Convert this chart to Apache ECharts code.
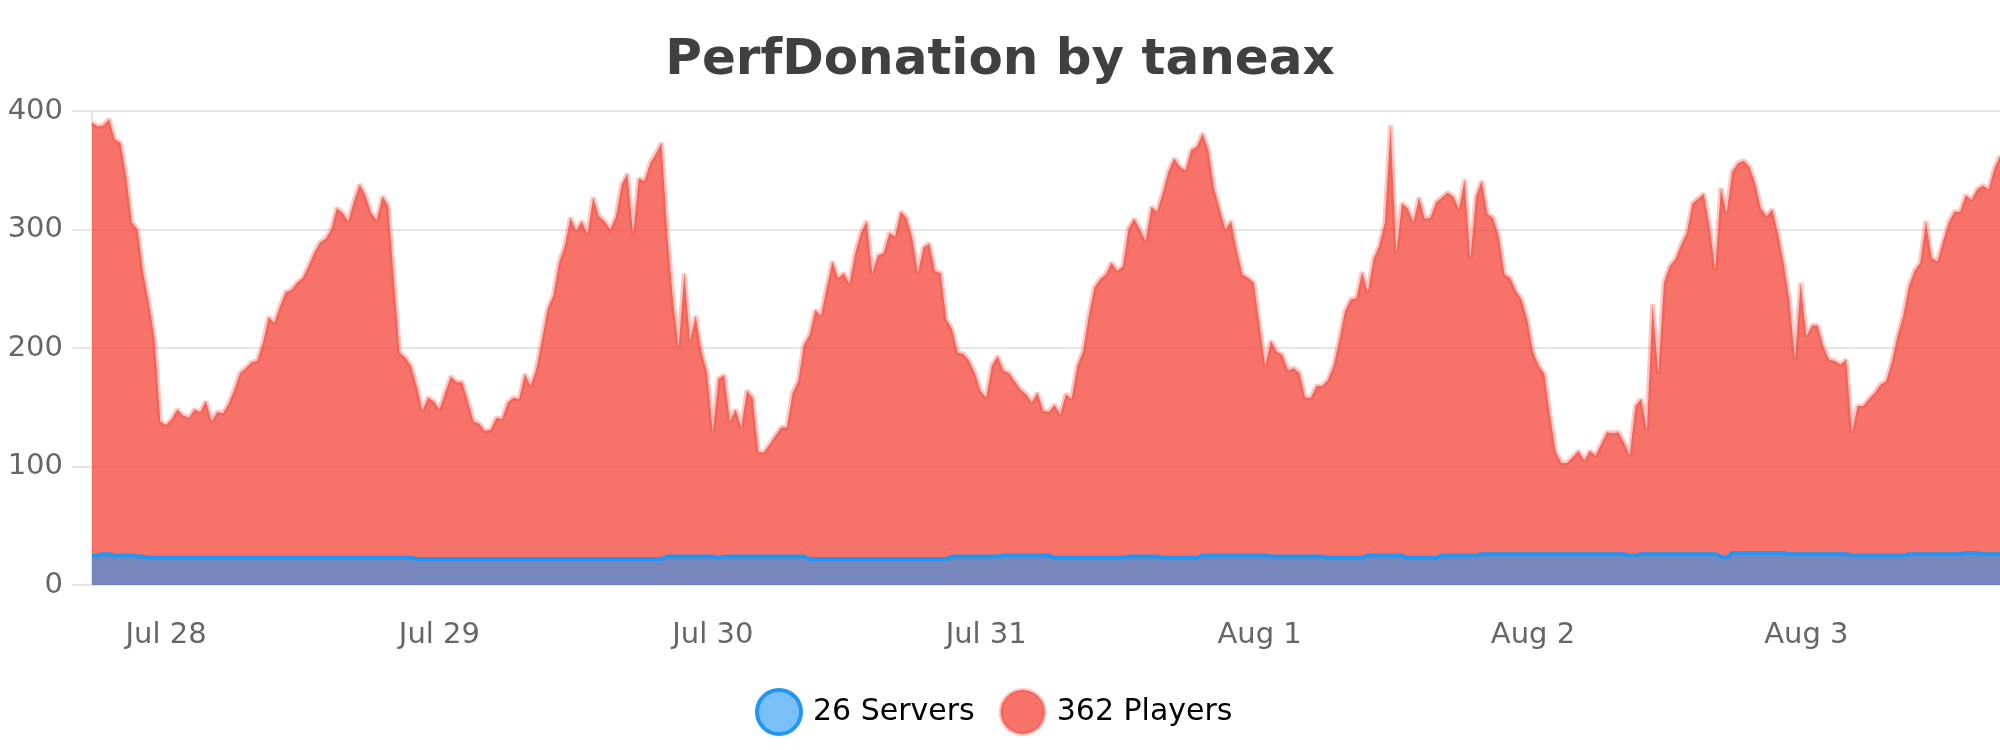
<!DOCTYPE html>
<html>
<head>
<meta charset="utf-8">
<script src="https://cdn.jsdelivr.net/npm/echarts@6/dist/echarts.min.js"></script>
<style>
  html, body { margin: 0; padding: 0; background: #ffffff; }
  #chart { width: 2000px; height: 750px; }
</style>
</head>
<body>
<div id="chart"></div>
<script>
// ---- data (half-hourly samples) ----
const TITLE = 'PerfDonation by taneax';
const START_UTC = '2020-07-27T17:30:00Z';   // first sample
const STEP_MINUTES = 30;
const MONTHS = ['Jan','Feb','Mar','Apr','May','Jun','Jul','Aug','Sep','Oct','Nov','Dec'];
const Y_TICKS = [0, 100, 200, 300, 400];

const players = [
  390,387,388,393,376,373,345,306,300,263, 238,207,138,135,140,148,143,141,148,146,
  155,138,146,145,153,165,179,183,188,189, 204,226,221,235,247,249,255,259,269,280,
  289,292,300,318,314,307,324,338,329,314, 308,328,320,258,196,192,185,168,147,158,
  155,148,162,176,171,171,155,138,136,130, 131,141,140,154,158,157,178,168,182,207,
  233,244,272,286,
  310,299,307,296,327,311,307,300,311,338, 347,296,343,341,356,364,373,297,241,200,
  263,206,227,197,179,129,174,177,138,148, 133,164,158,112,112,119,126,133,133,162,
  172,203,211,232,227,251,273,259,263,254, 280,297,307,263,278,280,297,294,315,310,
  293,263,285,288,265,263,224,216,196,195, 189,179,164,158,185,193,181,179,172,165,
  161,154,162,
  147,146,152,144,161,157,185,197,227,251, 258,262,272,265,269,301,309,300,290,319,
  315,331,349,360,353,350,367,370,381,367, 335,317,300,307,282,262,259,255,219,185,
  206,197,194,181,183,179,158,158,168,168, 173,185,207,231,241,242,264,247,275,286,
  306,388,280,322,318,306,327,309,310,323, 327,331,328,317,342,275,328,341,313,310,
  294,262,259,248,
  241,224,197,185,178,143,112,103,103,108, 113,105,113,109,119,129,128,129,120,109,
  151,157,131,237,178,255,269,275,287,297, 322,326,330,303,266,335,314,349,356,358,
  353,339,318,311,317,297,272,241,190,255, 210,219,219,201,190,189,186,190,129,151,
  151,157,162,169,172,188,210,227,252,265, 272,307,276,273,290,306,315,315,329,325,
  334,337,334,351,362
];

const servers = [
  25,25,26,26,25,25,25,25,24,24, 23,23,23,23,23,23,23,23,23,23,
  23,23,23,23,23,23,23,23,23,23, 23,23,23,23,23,23,23,23,23,23,
  23,23,23,23,23,23,23,23,23,23, 23,23,23,23,23,23,23,22,22,22,
  22,22,22,22,22,22,22,22,22,22, 22,22,22,22,22,22,22,22,22,22,
  22,22,22,22,22,22,22,22,22,22, 22,22,22,22,22,22,22,22,22,22,
  22,24,24,24,24,24,24,24,24,24, 23,24,24,24,24,24,24,24,24,24,
  24,24,24,24,24,24,22,22,22,22, 22,22,22,22,22,22,22,22,22,22,
  22,22,22,22,22,22,22,22,22,22, 22,24,24,24,24,24,24,24,24,24,
  25,25,25,25,25,25,25,25,25,23, 23,23,23,23,23,23,23,23,23,23,
  23,23,24,24,24,24,24,24,23,23, 23,23,23,23,23,25,25,25,25,25,
  25,25,25,25,25,25,25,24,24,24, 24,24,24,24,24,24,24,23,23,23,
  23,23,23,23,25,25,25,25,25,25, 25,23,23,23,23,23,23,25,25,25,
  25,25,25,25,26,26,26,26,26,26, 26,26,26,26,26,26,26,26,26,26,
  26,26,26,26,26,26,26,26,26,26, 25,25,26,26,26,26,26,26,26,26,
  26,26,26,26,26,26,24,23,27,27, 27,27,27,27,27,27,27,27,26,26,
  26,26,26,26,26,26,26,26,26,25, 25,25,25,25,25,25,25,25,25,26,
  26,26,26,26,26,26,26,26,26,27, 27,27,26,26,26,26
];

// ---- build categories (sample times) ----
const startMs = Date.parse(START_UTC);
const categories = players.map((_, i) => startMs + i * STEP_MINUTES * 60000);
function isMidnight(ms) { const d = new Date(ms); return d.getUTCHours() === 0 && d.getUTCMinutes() === 0; }
function dayLabel(ms) { const d = new Date(ms); return MONTHS[d.getUTCMonth()] + ' ' + d.getUTCDate(); }

const FONT = "'DejaVu Sans', sans-serif";
const GRID_COLOR = '#e5e5e5';
const lastOf = { Servers: servers[servers.length - 1], Players: players[players.length - 1] };

const chart = echarts.init(document.getElementById('chart'), null, { renderer: 'canvas' });
chart.setOption({
  animation: false,
  backgroundColor: '#ffffff',
  title: {
    text: TITLE,
    left: 'center',
    top: 31,
    textStyle: { fontFamily: FONT, fontSize: 50, fontWeight: 'bold', color: '#404040' }
  },
  grid: { left: 92, right: 0, top: 111, bottom: 165, containLabel: false },
  legend: {
    top: 683,
    left: 750,
    icon: 'circle',
    itemWidth: 44,
    itemHeight: 44,
    itemGap: 24,
    formatter: name => lastOf[name] + ' ' + name,
    textStyle: { fontFamily: FONT, fontSize: 30, color: '#000000', padding: [0, 0, 0, 7] },
    data: [
      { name: 'Servers', itemStyle: { color: 'rgba(33,150,243,0.6)', borderColor: '#2196f3', borderWidth: 4 } },
      { name: 'Players', itemStyle: { color: 'rgba(244,67,54,0.75)', borderColor: 'rgba(244,67,54,0.3)', borderWidth: 4 } }
    ]
  },
  xAxis: {
    type: 'category',
    data: categories,
    boundaryGap: false,
    axisLine: { show: true, lineStyle: { color: GRID_COLOR, width: 2 } },
    axisTick: { show: false },
    splitLine: { show: false },
    axisLabel: {
      interval: (index, value) => isMidnight(Number(value)),
      formatter: value => dayLabel(Number(value)),
      fontFamily: FONT, fontSize: 29, color: '#666666', margin: 36
    }
  },
  yAxis: {
    type: 'value',
    min: Y_TICKS[0],
    max: Y_TICKS[Y_TICKS.length - 1],
    interval: Y_TICKS[1] - Y_TICKS[0],
    axisLine: { show: true, lineStyle: { color: GRID_COLOR, width: 2 } },
    axisTick: { show: true, length: 20, lineStyle: { color: GRID_COLOR, width: 2 } },
    splitLine: { show: true, lineStyle: { color: GRID_COLOR, width: 2 } },
    axisLabel: { fontFamily: FONT, fontSize: 29, color: '#666666', margin: 29 }
  },
  series: [
    {
      name: 'Players',
      type: 'line',
      data: players,
      symbol: 'none',
      smooth: false,
      z: 2,
      lineStyle: { color: 'rgba(244,67,54,0.3)', width: 5 },
      itemStyle: { color: 'rgba(244,67,54,0.75)' },
      areaStyle: { color: 'rgba(244,67,54,0.75)', opacity: 1 }
    },
    {
      name: 'Servers',
      type: 'line',
      data: servers,
      symbol: 'none',
      smooth: false,
      z: 3,
      lineStyle: { color: '#2196f3', width: 4 },
      itemStyle: { color: 'rgba(33,150,243,0.6)' },
      areaStyle: { color: 'rgba(33,150,243,0.6)', opacity: 1 }
    }
  ]
});
</script>
</body>
</html>
